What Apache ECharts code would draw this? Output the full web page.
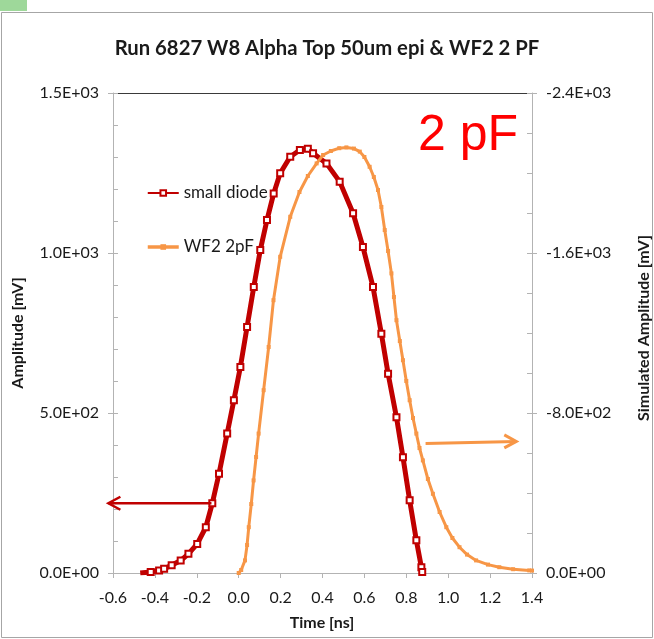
<!DOCTYPE html>
<html><head><meta charset="utf-8">
<script src="https://cdn.jsdelivr.net/npm/echarts@6/dist/echarts.min.js"></script>
<style>html,body{margin:0;padding:0;background:#fff}#c{width:654px;height:639px}</style>
</head><body><div id="c"></div>
<script>
const titleText = 'Run 6827 W8 Alpha Top 50um epi & WF2 2 PF';
const xTickLabels = ['-0.6','-0.4','-0.2','0.0','0.2','0.4','0.6','0.8','1.0','1.2','1.4'];
const leftTickLabels = ['0.0E+00','5.0E+02','1.0E+03','1.5E+03'];
const rightTickLabels = ['0.0E+00','-8.0E+02','-1.6E+03','-2.4E+03'];

// small diode (left axis, mV)
const diodeT = [-0.47,-0.42,-0.38,-0.356,-0.32,-0.277,-0.24,-0.198,-0.157,-0.126,-0.094,-0.055,-0.023,0.008,0.040,0.072,0.103,0.135,0.167,0.198,0.246,0.292,0.33,0.355,0.419,0.482,0.546,0.593,0.641,0.681,0.713,0.753,0.784,0.816,0.848,0.872,0.876];
const diodeV = [0,3,8,13,24,39,60,91,143,218,310,436,540,644,769,894,1009,1103,1186,1249,1301,1322,1326,1312,1280,1223,1124,1019,894,748,623,487,362,227,102,18,3];

// WF2 2pF (right axis, simulated mV)
const wf2T = [0.0,0.012,0.03,0.04,0.048,0.06,0.071,0.083,0.095,0.119,0.143,0.166,0.198,0.246,0.29,0.33,0.372,0.403,0.44,0.48,0.514,0.55,0.578,0.60,0.625,0.645,0.665,0.681,0.697,0.713,0.729,0.741,0.753,0.769,0.784,0.80,0.816,0.832,0.848,0.863,0.879,0.903,0.927,0.959,0.991,1.02,1.054,1.09,1.133,1.19,1.244,1.31,1.387,1.4];
const wf2V = [0,-15,-63,-140,-229,-345,-463,-580,-697,-914,-1130,-1364,-1581,-1781,-1905,-1985,-2048,-2090,-2110,-2124,-2128,-2122,-2107,-2080,-2031,-1980,-1915,-1830,-1715,-1610,-1498,-1380,-1264,-1160,-1064,-960,-864,-775,-697,-625,-563,-470,-396,-305,-229,-175,-129,-92,-63,-42,-29,-19,-13,-12];

// annotation arrows (data coordinates)
const arrowDiode = {from:[-0.13,218], to:[-0.622,218]};
const arrowWf2 = {from:[0.892,-648], to:[1.325,-658]};

const RED = '#C00000', ORANGE = '#F79646', AXIS = '#B3B3B3', TXT = '#1a1a1a';
const FONT = 'Lato';

const chart = echarts.init(document.getElementById('c'), null, {renderer:'canvas'});
const diodeData = diodeT.map((t,i)=> i===0 ? {value:[t,diodeV[i]], symbol:'none'} : [t,diodeV[i]]);
const wf2Data = wf2T.map((t,i)=>[t,wf2V[i]]);

const option = {
  animation:false,
  backgroundColor:'#fff',
  title:{text:titleText, left:'center', top:33, textStyle:{fontFamily:FONT, fontSize:20.3, fontWeight:'bold', color:TXT}},
  grid:{left:113, top:93, width:419, height:480, containLabel:false},
  legend:{data:[{name:'small diode', lineStyle:{width:2}}, {name:'WF2 2pF', lineStyle:{width:3.5}}],
    orient:'vertical', left:141, top:178, itemWidth:31, itemHeight:7, itemGap:34, z:10,
    textStyle:{fontFamily:FONT, fontSize:17, lineHeight:20, color:TXT}},
  xAxis:[{type:'value', min:-0.6, max:1.4, interval:0.2,
    axisLine:{show:true, onZero:false, lineStyle:{color:AXIS, width:1}},
    axisTick:{show:true, inside:false, length:5, lineStyle:{color:AXIS}},
    axisLabel:{fontFamily:FONT, fontSize:16, color:TXT, margin:17,
      formatter:v=>xTickLabels[Math.round((v+0.6)/0.2)]},
    splitLine:{show:false}},
   {type:'value', position:'top', min:-0.6, max:1.4, interval:0.2,
    axisLine:{show:true, onZero:false, lineStyle:{color:'#3a3a3a', width:1}},
    axisTick:{show:false}, axisLabel:{show:false}, splitLine:{show:false}}],
  yAxis:[
   {type:'value', position:'left', min:0, max:1500, interval:500,
    axisLine:{show:true, onZero:false, lineStyle:{color:AXIS}},
    axisTick:{show:true, inside:false, length:5, lineStyle:{color:AXIS}},
    axisLabel:{fontFamily:FONT, fontSize:16, color:TXT, margin:14,
      formatter:v=>leftTickLabels[Math.round(v/500)]},
    splitLine:{show:false}},
   {type:'value', position:'right', min:-2400, max:0, interval:800, inverse:true,
    axisLine:{show:true, onZero:false, lineStyle:{color:AXIS}},
    axisTick:{show:true, inside:false, length:5, lineStyle:{color:AXIS}},
    axisLabel:{fontFamily:FONT, fontSize:16, color:TXT, margin:14,
      formatter:v=>rightTickLabels[Math.round(-v/800)]},
    splitLine:{show:false}},
   {type:'value', position:'left', min:0, max:1500, interval:100,
    axisLine:{show:false, onZero:false}, axisTick:{show:true, inside:true, length:5, lineStyle:{color:AXIS}},
    axisLabel:{show:false}, splitLine:{show:false}},
   {type:'value', position:'right', min:-2400, max:0, interval:200, inverse:true,
    axisLine:{show:false, onZero:false}, axisTick:{show:true, inside:true, length:5, lineStyle:{color:AXIS}},
    axisLabel:{show:false}, splitLine:{show:false}}
  ],
  series:[
    {name:'small diode', type:'line', xAxisIndex:0, yAxisIndex:0, data:diodeData,
     symbol:'emptyRect', symbolSize:6, showAllSymbol:true, z:2,
     lineStyle:{color:RED, width:5}, itemStyle:{color:RED, borderWidth:1.5}},
    {name:'WF2 2pF', type:'line', xAxisIndex:0, yAxisIndex:1, data:wf2Data,
     symbol:'rect', symbolSize:4, showAllSymbol:true, z:3,
     lineStyle:{color:ORANGE, width:3}, itemStyle:{color:ORANGE}}
  ]
};
chart.setOption(option);

function arrowGraphics(a, finder, color, width, dir){
  const p0 = chart.convertToPixel(finder, a.from);
  const p1 = chart.convertToPixel(finder, a.to);
  const d = dir; // +1 tip on right, -1 tip on left
  return [
    {type:'polyline', shape:{points:[p0,p1]}, style:{stroke:color, lineWidth:width, fill:null}, z:50},
    {type:'polyline', shape:{points:[[p1[0]-d*12,p1[1]-6.5],p1,[p1[0]-d*12,p1[1]+6.5]]},
     style:{stroke:color, lineWidth:width, fill:null, lineJoin:'miter'}, z:50}
  ];
}

const g = [
  {type:'rect', shape:{x:1.5, y:12.5, width:651, height:625}, style:{fill:null, stroke:'#A6A6A6', lineWidth:1}, z:0, silent:true},
  {type:'rect', shape:{x:0, y:0, width:27, height:11}, style:{fill:'#9ED89A'}, z:0},
  {type:'text', x:418, y:136, style:{text:'2 pF', fill:'#FF0000', font:'50px "Liberation Sans", Arial, sans-serif', align:'left', verticalAlign:'middle'}, z:60},
  {type:'text', x:18, y:333, rotation:Math.PI/2, style:{text:'Amplitude [mV]', fill:TXT, font:'bold 16px Lato', align:'center', verticalAlign:'middle'}, z:60},
  {type:'text', x:644, y:328, rotation:Math.PI/2, style:{text:'Simulated Amplitude [mV]', fill:TXT, font:'bold 16px Lato', align:'center', verticalAlign:'middle'}, z:60},
  {type:'text', x:322, y:623, style:{text:'Time [ns]', fill:TXT, font:'bold 16px Lato', align:'center', verticalAlign:'middle'}, z:60}
].concat(arrowGraphics(arrowDiode, {xAxisIndex:0, yAxisIndex:0}, RED, 2.5, -1))
 .concat(arrowGraphics(arrowWf2, {xAxisIndex:0, yAxisIndex:1}, ORANGE, 3, 1));

chart.setOption({graphic:g});
</script>
</body></html>
